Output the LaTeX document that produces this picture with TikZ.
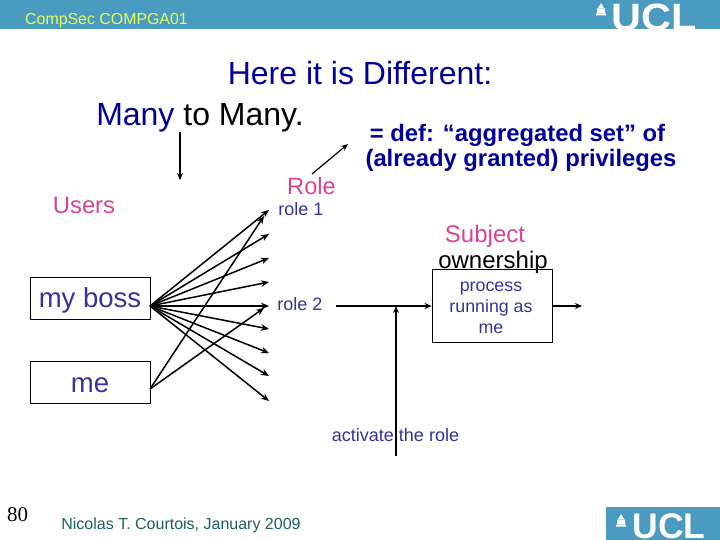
\documentclass[tikz,border=0pt]{standalone}
\usepackage{fontspec}
\setmainfont{Liberation Sans}
\newfontfamily\serifnum{Liberation Serif}
\usetikzlibrary{arrows.meta}
\definecolor{band}{HTML}{4A9BBF}
\definecolor{titleblue}{HTML}{000099}
\definecolor{textblue}{HTML}{333399}
\definecolor{pinkish}{HTML}{D8448F}
\definecolor{footteal}{HTML}{1D5F63}
\definecolor{headyellow}{HTML}{E4FF5A}
\tikzset{
  lab/.style={inner sep=0pt,outer sep=0pt,anchor=base,align=center},
  ubox/.style={draw=black,line width=0.8pt,minimum width=120pt,minimum height=42pt,inner sep=0pt},
  conn/.style={line width=1.5pt,-{Stealth[length=8pt,width=6.5pt]}},
  thickconn/.style={line width=1.9pt,-{Stealth[length=7pt,width=6pt]}},
  thinconn/.style={line width=1.2pt,-{Stealth[length=7pt,width=6pt]}},
}
\begin{document}
\begin{tikzpicture}[x=1pt,y=-1pt]
\useasboundingbox (0,0) rectangle (720,540);
% header band
\fill[band] (0,0) rectangle (720,29);
\node[lab,text=headyellow,font=\fontsize{15.9}{16}\selectfont] (hdr) at (106.5,25) {CompSec COMPGA01};
\begin{scope}
\clip (600,0) rectangle (720,29);
\node[lab,text=white,xscale=1.09,font=\fontsize{38}{38}\selectfont\bfseries] (ucltop) at (654,30.5) {UCL};
\end{scope}
\fill[white] (598,8) -- (601,3) -- (604,8) -- cycle (597,8.5) rectangle (605,13) (596,13.5) rectangle (606,15.5);
% footer logo
\fill[band] (606,507) rectangle (720,540);
\node[lab,text=white,font=\fontsize{35.5}{35.5}\selectfont\bfseries] (uclbot) at (669,538.5) {UCL};
\fill[white] (618,519) -- (621,514) -- (624,519) -- cycle (617,519.5) rectangle (625,524) (616,524.5) rectangle (626,526.5);
% titles
\node[lab,text=titleblue,font=\fontsize{32}{32}\selectfont] (t1) at (360,85) {Here it is Different:};
\node[lab,font=\fontsize{32}{32}\selectfont] (t2) at (200,126) {\textcolor{titleblue}{Many} to Many.};
\node[lab,text=titleblue,font=\fontsize{23.8}{23.8}\selectfont\bfseries] (d1) at (517.5,142) {= def: “aggregated set” of};
\node[lab,text=titleblue,font=\fontsize{23.8}{23.8}\selectfont\bfseries] (d2) at (521,167) {(already granted) privileges};
% labels
\node[lab,text=pinkish,font=\fontsize{23.8}{23.8}\selectfont] (users) at (84,214) {Users};
\node[lab,text=pinkish,font=\fontsize{23.6}{23.6}\selectfont] (role) at (311.5,195) {Role};
\node[lab,text=textblue,font=\fontsize{18}{18}\selectfont] (r1) at (301,215) {role 1};
\node[lab,text=textblue,font=\fontsize{18}{18}\selectfont] (r2) at (300,310) {role 2};
\node[lab,text=pinkish,font=\fontsize{24}{24}\selectfont] (subj) at (485,243) {Subject};
\node[lab,text=black,font=\fontsize{24}{24}\selectfont] (own) at (493,268) {ownership};
% boxes
\node[ubox] (boss) at (90,298) {};
\node[ubox] (me) at (90,382) {};
\node[lab,text=textblue,font=\fontsize{27.5}{27.5}\selectfont] (bosst) at (90,307) {my boss};
\node[lab,text=textblue,font=\fontsize{27.5}{27.5}\selectfont] (met) at (90,392) {me};
\node[draw=black,line width=0.8pt,minimum width=120pt,minimum height=73pt,inner sep=0pt] (proc) at (492,305.5) {};
\node[inner sep=0pt,text=textblue,align=center,font=\fontsize{17.8}{21}\selectfont] (proct) at (491,308) {process\\running as\\me};
\node[lab,text=textblue,font=\fontsize{18}{18}\selectfont] (act) at (395.5,441) {activate the role};
% footer
\node[lab,font=\fontsize{21}{21}\serifnum\selectfont] (num) at (17.5,521) {80};
\node[lab,text=footteal,font=\fontsize{16}{16}\selectfont] (foot) at (181,529) {Nicolas T. Courtois, January 2009};
% free ends
\coordinate (bs) at (150,306);
\coordinate (ms) at (150,389);
\foreach \n/\y in {a/210,b/234,c/258,d/282,e/306,f/329,g/353,h/376,i/401}
  \coordinate (t\n) at (269,\y);
\coordinate (m1) at (264,216);
\coordinate (m2) at (264,308);
\foreach \n in {a,b,c,d,e,f,g,h,i}
  \draw[conn] (bs) -- (t\n);
\draw[conn] (ms) -- (m1);
\draw[conn] (ms) -- (m2);
% right part
\coordinate (inS) at (336,306);
\coordinate (outE) at (582,306);
\coordinate (actS) at (396,456);
\coordinate (actE) at (396,306);
\draw[thickconn] (inS) -- (proc.west |- inS);
\draw[thickconn] (proc.east |- outE) -- (outE);
\draw[thickconn] (actS) -- (actE);
% title arrows
\coordinate (dnS) at (180,132);
\coordinate (dnE) at (180,180);
\coordinate (rlS) at (312,174);
\coordinate (rlE) at (348,144);
\draw[thinconn] (dnS) -- (dnE);
\draw[thinconn] (rlS) -- (rlE);
\end{tikzpicture}
\end{document}
